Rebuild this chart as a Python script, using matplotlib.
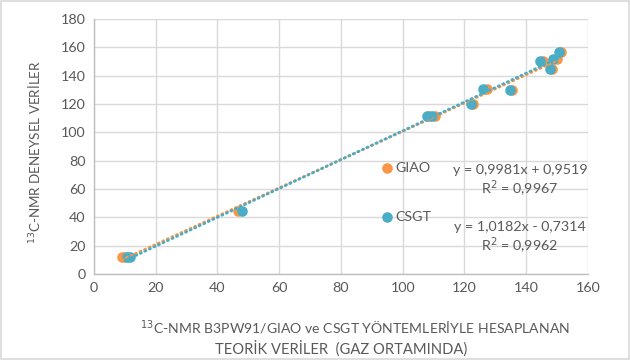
import matplotlib
matplotlib.use("Agg")
import matplotlib.pyplot as plt
import numpy as np
from matplotlib.patches import Rectangle

plt.rcParams['font.family'] = ['Lato', 'DejaVu Sans']

# Experimental 13C shifts (ppm)
exp_shift = [12.0, 12.3, 44.5, 111.5, 111.5, 120.0, 130.4, 130.2, 150.3, 144.7, 152.0, 156.5]
# Calculated shifts, gas phase
giao_shift = [9.0, 10.0, 46.7, 108.6, 110.4, 122.6, 127.4, 135.3, 145.3, 148.2, 150.1, 151.3]
csgt_shift = [10.6, 11.6, 47.8, 107.7, 109.4, 122.0, 126.1, 134.7, 144.3, 147.7, 148.6, 150.7]

# Linear trendline coefficients (slope, intercept, R^2)
giao_fit = (0.9981, 0.9519, 0.9967)
csgt_fit = (1.0182, -0.7314, 0.9962)

series_names = ["GIAO", "CSGT"]
x_ticks = [0, 20, 40, 60, 80, 100, 120, 140, 160]
y_ticks = [0, 20, 40, 60, 80, 100, 120, 140, 160, 180]

orange = "#F79646"
blue = "#4BACC6"
text_gray = "#595959"
grid_gray = "#D9D9D9"

fig = plt.figure(figsize=(6.3, 3.6), dpi=100)
fig.patches.append(Rectangle((0.0015, 0.003), 0.997, 0.994, transform=fig.transFigure,
                             fill=False, edgecolor="#D9D9D9", linewidth=1.2))
ax = fig.add_axes([0.1492, 0.2389, 0.7841, 0.7083])

ax.set_xlim(0, 160)
ax.set_ylim(0, 180)
ax.set_xticks(x_ticks)
ax.set_yticks(y_ticks)
ax.grid(True, color=grid_gray, linewidth=1)
ax.set_axisbelow(True)
for side in ["top", "right"]:
    ax.spines[side].set_visible(False)
for side in ["left", "bottom"]:
    ax.spines[side].set_color("#BFBFBF")
    ax.spines[side].set_linewidth(1)
ax.tick_params(length=0, labelsize=10.3, labelcolor=text_gray, pad=6)

ms = 58
ax.scatter(giao_shift, exp_shift, s=ms, color=orange, zorder=3, linewidths=0)
ax.scatter(csgt_shift, exp_shift, s=ms, color=blue, zorder=4, linewidths=0)

for xs, (m, b, _), c, z in [(giao_shift, giao_fit, orange, 5), (csgt_shift, csgt_fit, blue, 6)]:
    xl = np.array([min(xs), max(xs)])
    ax.plot(xl, m * xl + b, color=c, linewidth=2, linestyle=(0, (0.4, 1.4)),
            dash_capstyle="round", zorder=z)

# legend entries placed inside the plot
ax.scatter([94.9], [74.8], s=ms, color=orange, linewidths=0, zorder=5)
ax.text(97.6, 74.8, series_names[0], fontsize=10.3, color=text_gray, va="center", ha="left")
ax.scatter([94.9], [40.2], s=ms, color=blue, linewidths=0, zorder=5)
ax.text(97.6, 40.2, series_names[1], fontsize=10.3, color=text_gray, va="center", ha="left")

def fmt(v):
    return f"{abs(v):.4f}".replace(".", ",")

eq_size = 10.3
m, b, r2 = giao_fit
ax.text(138, 73.4, f"y = {fmt(m)}x + {fmt(b)}", fontsize=eq_size, color=text_gray, ha="center", va="center")
ax.text(138, 60.0, f"R$^2$ = {fmt(r2)}", fontsize=eq_size, color=text_gray, ha="center", va="center")
m, b, r2 = csgt_fit
sign = "-" if b < 0 else "+"
ax.text(138, 33.2, f"y = {fmt(m)}x {sign} {fmt(b)}", fontsize=eq_size, color=text_gray, ha="center", va="center")
ax.text(138, 19.8, f"R$^2$ = {fmt(r2)}", fontsize=eq_size, color=text_gray, ha="center", va="center")

# axis titles
fig.text(355 / 630, 1 - 328 / 360, "$^{13}$C-NMR B3PW91/GIAO ve CSGT YÖNTEMLERİYLE HESAPLANAN",
         fontsize=10.1, color=text_gray, ha="center", va="center")
fig.text(341 / 630, 1 - 349 / 360, "TEORİK VERİLER  (GAZ ORTAMINDA)",
         fontsize=10.6, color=text_gray, ha="center", va="center")
fig.text(34 / 630, 1 - 152 / 360, "$^{13}$C-NMR DENEYSEL VERİLER", rotation=90,
         fontsize=9.6, color=text_gray, ha="center", va="center")

fig.savefig("out.png", dpi=100)
